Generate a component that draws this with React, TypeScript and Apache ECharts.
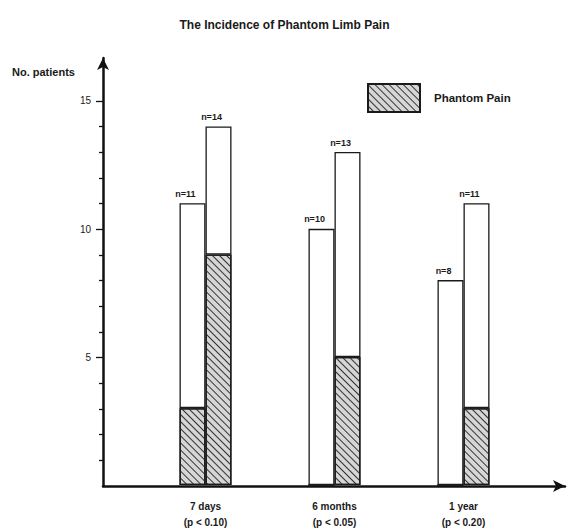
import React, { useEffect, useRef } from "react";
import * as echarts from "echarts";

const categories = ["7 days", "6 months", "1 year"];
const pValues = ["(p < 0.10)", "(p < 0.05)", "(p < 0.20)"];
const leftTotals = [11, 10, 8];
const leftPain = [3, 0, 0];
const rightTotals = [14, 13, 11];
const rightPain = [9, 5, 3];
const majorTicks = [5, 10, 15];
const minorTicks = [1, 2, 3, 4, 6, 7, 8, 9, 11, 12, 13, 14];
const Y_MAX = 16.67;

const FONT = "Liberation Sans, Arial, sans-serif";

const hatch = {
  symbol: "rect",
  symbolSize: 1,
  dashArrayX: [1, 0],
  dashArrayY: [1, 3.5],
  rotation: Math.PI / 4,
  color: "#333333",
};

export default function App() {
  const ref = useRef<HTMLDivElement>(null);
  useEffect(() => {
    document.body.style.margin = "0";
    const chart = echarts.init(ref.current!, null, { renderer: "svg" });
    const barBase = {
      type: "bar",
      xAxisIndex: 1,
      yAxisIndex: 2,
      barWidth: 26,
      barGap: "0%",
    };
    const whiteStyle = { color: "#ffffff", borderColor: "#1a1a1a", borderWidth: 1.3 };
    const painStyle = { color: "#d6d6d6", borderColor: "#1a1a1a", borderWidth: 1.3, decal: hatch };
    const nLabel = (totals: number[]) => ({
      show: true,
      position: "top",
      distance: 5,
      offset: [-7, 0],
      fontFamily: FONT,
      fontSize: 9,
      fontWeight: "bold",
      color: "#1a1a1a",
      formatter: (p: any) => "n=" + totals[p.dataIndex],
    });
    chart.setOption({
      animation: false,
      title: {
        text: "The Incidence of Phantom Limb Pain",
        left: "center",
        top: 14,
        textStyle: { fontFamily: FONT, fontSize: 12, fontWeight: "bold", color: "#1a1a1a" },
      },
      legend: {
        data: ["Phantom Pain"],
        left: 362,
        top: 78,
        icon: "rect",
        itemWidth: 52,
        itemHeight: 28,
        textStyle: {
          fontFamily: FONT,
          fontSize: 11.5,
          fontWeight: "bold",
          color: "#1a1a1a",
          padding: [0, 0, 0, 9],
        },
      },
      graphic: [
        {
          type: "text",
          left: 12,
          top: 66,
          style: { text: "No. patients", font: "bold 11px " + FONT, fill: "#1a1a1a" },
        },
      ],
      grid: [
        { left: 103, top: 58, width: 462, height: 428 },
        { left: 141, top: 58, width: 387, height: 428 },
      ],
      xAxis: [
        {
          type: "value",
          gridIndex: 0,
          min: 0,
          max: 1,
          axisLine: {
            show: true,
            symbol: ["none", "arrow"],
            symbolSize: [9, 12],
            lineStyle: { color: "#111", width: 2.5 },
          },
          axisTick: { show: false },
          axisLabel: { show: false },
          splitLine: { show: false },
        },
        {
          type: "category",
          gridIndex: 1,
          data: categories,
          axisLine: { show: false },
          axisTick: { show: false },
          axisLabel: {
            margin: 13,
            fontFamily: FONT,
            fontSize: 10,
            fontWeight: "bold",
            lineHeight: 16,
            color: "#1a1a1a",
            formatter: (v: string, i: number) => v + "\n" + pValues[i],
          },
        },
      ],
      yAxis: [
        {
          type: "value",
          gridIndex: 0,
          position: "left",
          min: 0,
          max: Y_MAX,
          axisLine: {
            show: true,
            symbol: ["none", "arrow"],
            symbolSize: [9, 12],
            lineStyle: { color: "#111", width: 2.5 },
          },
          axisTick: { show: true, length: 7, customValues: majorTicks, lineStyle: { color: "#111", width: 1.3 } },
          axisLabel: {
            customValues: majorTicks,
            margin: 12,
            fontFamily: FONT,
            fontSize: 10,
            color: "#1a1a1a",
          },
          splitLine: { show: false },
        },
        {
          type: "value",
          gridIndex: 0,
          position: "left",
          offset: 0,
          min: 0,
          max: Y_MAX,
          axisLine: { show: false },
          axisTick: { show: true, length: 4, customValues: minorTicks, lineStyle: { color: "#111", width: 1.3 } },
          axisLabel: { show: false },
          splitLine: { show: false },
        },
        {
          type: "value",
          gridIndex: 1,
          min: 0,
          max: Y_MAX,
          show: false,
        },
      ],
      series: [
        { ...barBase, name: "Phantom Pain", stack: "left", data: leftPain, itemStyle: painStyle },
        {
          ...barBase,
          name: "Left total",
          stack: "left",
          data: leftTotals.map((t, i) => t - leftPain[i]),
          itemStyle: whiteStyle,
          label: nLabel(leftTotals),
        },
        { ...barBase, name: "Phantom Pain", stack: "right", data: rightPain, itemStyle: painStyle },
        {
          ...barBase,
          name: "Right total",
          stack: "right",
          data: rightTotals.map((t, i) => t - rightPain[i]),
          itemStyle: whiteStyle,
          label: nLabel(rightTotals),
        },
      ],
    });
    return () => chart.dispose();
  }, []);
  return <div ref={ref} style={{ width: 569, height: 530 }} />;
}
